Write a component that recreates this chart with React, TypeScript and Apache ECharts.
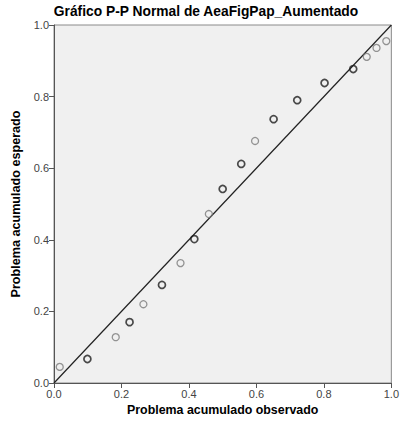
import React, { useEffect, useRef } from "react";
import * as echarts from "echarts";

const titleText = "Gráfico P-P Normal de AeaFigPap_Aumentado";
const xAxisName = "Problema acumulado observado";
const yAxisName = "Problema acumulado esperado";

const observed = [0.017, 0.099, 0.183, 0.224, 0.265, 0.32, 0.375, 0.416, 0.459, 0.5, 0.555, 0.596, 0.651, 0.721, 0.802, 0.887, 0.927, 0.956, 0.985];
const expected = [0.045, 0.067, 0.128, 0.17, 0.22, 0.274, 0.335, 0.402, 0.472, 0.542, 0.612, 0.676, 0.737, 0.79, 0.838, 0.877, 0.911, 0.936, 0.955];
// 1 = drawn darker (overlapping cases), 0 = single
const repeated = [0, 1, 0, 1, 0, 1, 0, 1, 0, 1, 1, 0, 1, 1, 1, 1, 0, 0, 0];
const refLine = [[0, 0], [1, 1]];

export default function App() {
  const ref = useRef<HTMLDivElement>(null);
  useEffect(() => {
    document.body.style.margin = "0";
    const chart = echarts.init(ref.current!, null, { renderer: "svg" });
    const single = observed.map((x, i) => [x, expected[i]]).filter((_, i) => repeated[i] === 0);
    const multi = observed.map((x, i) => [x, expected[i]]).filter((_, i) => repeated[i] === 1);
    chart.setOption({
      animation: false,
      backgroundColor: "#ffffff",
      textStyle: { fontFamily: "Liberation Sans, Arial, sans-serif" },
      graphic: [
        {
          type: "text",
          x: 206,
          y: 11,
          style: {
            text: titleText,
            fontSize: 13.8,
            fontWeight: "bold",
            fill: "#000",
            align: "center",
            verticalAlign: "middle",
            fontFamily: "Liberation Sans, Arial, sans-serif",
          },
        },
      ],
      grid: {
        left: 54,
        right: 4,
        top: 25,
        bottom: 44,
        show: true,
        backgroundColor: "#f0f0f0",
        borderColor: "#8a8a8a",
        borderWidth: 1,
      },
      xAxis: {
        type: "value",
        min: 0,
        max: 1,
        interval: 0.2,
        name: xAxisName,
        nameLocation: "middle",
        nameGap: 20,
        nameTextStyle: { fontSize: 12.4, fontWeight: "bold", color: "#000" },
        axisLine: { show: true, lineStyle: { color: "#555", width: 1 } },
        axisTick: { show: true, length: 5, lineStyle: { color: "#555" } },
        axisLabel: { color: "#444", fontSize: 11, margin: 5, formatter: (v: number) => v.toFixed(1) },
        splitLine: { show: false },
      },
      yAxis: {
        type: "value",
        min: 0,
        max: 1,
        interval: 0.2,
        name: yAxisName,
        nameLocation: "middle",
        nameGap: 28,
        nameTextStyle: { fontSize: 12.6, fontWeight: "bold", color: "#000" },
        axisLine: { show: true, lineStyle: { color: "#555", width: 1 } },
        axisTick: { show: true, length: 5, lineStyle: { color: "#555" } },
        axisLabel: { color: "#444", fontSize: 11, margin: 5, formatter: (v: number) => v.toFixed(1) },
        splitLine: { show: false },
      },
      series: [
        {
          type: "line",
          data: refLine,
          symbol: "none",
          lineStyle: { color: "#222", width: 1.2 },
          silent: true,
          z: 1,
        },
        {
          type: "scatter",
          data: single,
          symbol: "circle",
          symbolSize: 7,
          itemStyle: { color: "transparent", borderColor: "#7a7a7a", borderWidth: 1.3 },
          z: 3,
        },
        {
          type: "scatter",
          data: multi,
          symbol: "circle",
          symbolSize: 7,
          itemStyle: { color: "transparent", borderColor: "#1e1e1e", borderWidth: 1.7 },
          z: 3,
        },
      ],
    });
    return () => chart.dispose();
  }, []);
  return <div ref={ref} style={{ width: 402, height: 427 }} />;
}
